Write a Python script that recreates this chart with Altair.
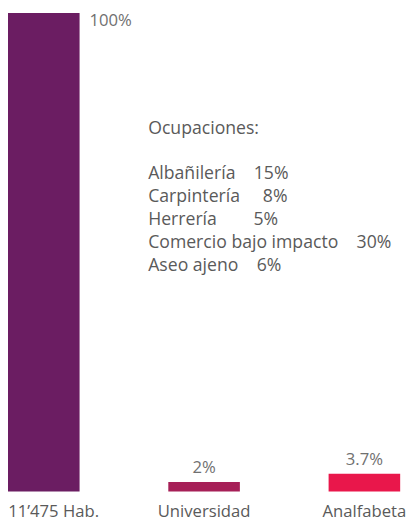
import altair as alt
import pandas as pd

# Bars
categories = ["11’475 Hab.", "Universidad", "Analfabeta"]
values = [100, 2, 3.7]
value_labels = ["100%", "2%", "3.7%"]
bar_colors = ["#6B1D62", "#A61F57", "#E9174B"]

# Occupations annotation
occ_title = "Ocupaciones:"
occ_names = ["Albañilería", "Carpintería", "Herrería", "Comercio bajo impacto", "Aseo ajeno"]
occ_pcts = ["15%", "8%", "5%", "30%", "6%"]
occ_gaps = [4, 5, 8, 4, 4]

FONT = "Open Sans"
TEXT_COLOR = "#5a5a5a"
NBSP = "\u00a0"

df = pd.DataFrame({"cat": categories, "value": values, "label": value_labels, "color": bar_colors})

list_lines = [n + NBSP * g + p for n, p, g in zip(occ_names, occ_pcts, occ_gaps)]
title_df = pd.DataFrame({"t": [occ_title]})
list_df = pd.DataFrame({"t": ["\n".join(list_lines)]})

base = alt.Chart(df).encode(
    x=alt.X(
        "cat:N",
        sort=categories,
        scale=alt.Scale(paddingInner=0.5535, paddingOuter=0),
        axis=alt.Axis(
            title=None,
            labelAngle=0,
            ticks=False,
            domain=False,
            grid=False,
            labelFont=FONT,
            labelFontSize=17,
            labelColor=TEXT_COLOR,
            labelPadding=12,
            labelOffset={"condition": {"test": "datum.value === '11’475 Hab.'", "value": 10}, "value": 0},
        ),
    ),
    y=alt.Y("value:Q", scale=alt.Scale(domain=[0, 100]), axis=None),
)

bars = base.mark_bar().encode(color=alt.Color("color:N", scale=None))

top_label = base.transform_filter(alt.datum.value >= 100).mark_text(
    align="left", baseline="middle", dx=46.5, dy=8.5, font=FONT, fontSize=17, color="#707070"
).encode(text="label:N")

small_labels = base.transform_filter(alt.datum.value < 100).mark_text(
    align="center", baseline="middle", dy=-14, font=FONT, fontSize=17, color="#707070"
).encode(text="label:N")

text_style = dict(align="left", baseline="alphabetic", font=FONT, fontSize=18, color=TEXT_COLOR)

occ_title_mark = alt.Chart(title_df).mark_text(**text_style).encode(
    x=alt.value(143), y=alt.value(123), text="t:N"
)

occ_list_mark = alt.Chart(list_df).mark_text(lineBreak="\n", lineHeight=23.5, **text_style).encode(
    x=alt.value(143), y=alt.value(169), text="t:N"
)

chart = alt.layer(bars, top_label, small_labels, occ_title_mark, occ_list_mark).properties(
    width=400,
    height=488,
    autosize=alt.AutoSizeParams(type="none"),
    padding={"left": 0, "top": 0, "right": 9, "bottom": 29},
).configure_view(stroke=None)

chart.save("out.html", embed_options={"renderer": "svg", "actions": False})
